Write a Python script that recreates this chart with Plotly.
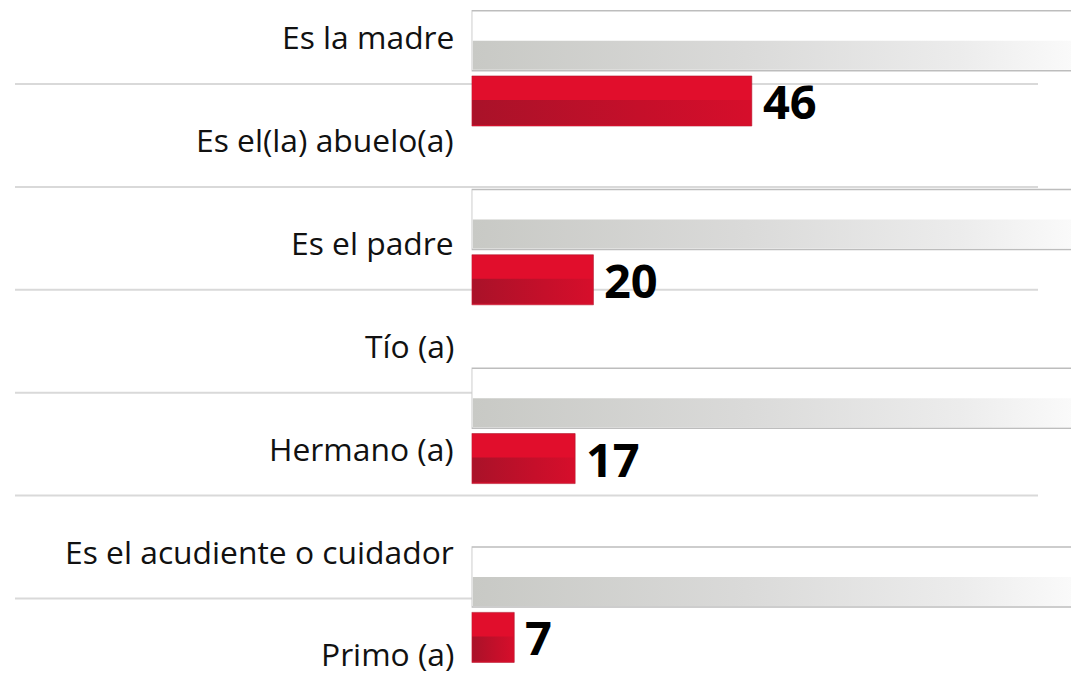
import plotly.graph_objects as go

# ---------------- data ----------------
labels = ["Es la madre", "Es el(la) abuelo(a)", "Es el padre", "Tío (a)",
          "Hermano (a)", "Es el acudiente o cuidador", "Primo (a)"]
values = [46, 20, 17, 7]
track = [100, 100, 100, 100]

# ---------------- style / layout constants ----------------
W, H = 1071, 699
groups = list(range(len(values)))
GRAY_OFF, GRAY_W = -0.3507, 0.3356
RED_OFF, RED_W = 0.0145, 0.2797
LINE_OFF = 0.4616
GROUP_PX = 178.8
ROW_PX = 102.9

fig = go.Figure()

# gray background tracks (white box with gray border)
fig.add_trace(go.Bar(
    orientation="h", x=track, y=groups, base=0,
    offset=GRAY_OFF, width=GRAY_W,
    marker=dict(color="#ffffff", line=dict(color="#bdbdbd", width=1.5)),
    hoverinfo="skip", showlegend=False,
))

# red value bars
fig.add_trace(go.Bar(
    orientation="h", x=values, y=groups, base=0,
    offset=RED_OFF, width=RED_W,
    marker=dict(color="#e10e2c", line=dict(color="#b0152c", width=0.6)),
    hoverinfo="skip", showlegend=False,
))

# gradient lower halves of tracks and red bars (scatter polygons built from data)
px_y = 1.0 / GROUP_PX
for g, t, v in zip(groups, track, values):
    y_top = g + GRAY_OFF + GRAY_W * 0.5
    y_bot = g + GRAY_OFF + GRAY_W - px_y
    fig.add_trace(go.Scatter(
        x=[0.2, t, t, 0.2, 0.2], y=[y_top, y_top, y_bot, y_bot, y_top],
        mode="lines", fill="toself", line=dict(width=0),
        fillgradient=dict(type="horizontal",
                          colorscale=[[0, "#c8c9c5"], [0.45, "#dadad9"],
                                      [0.8, "#ececec"], [1, "#fbfbfb"]]),
        hoverinfo="skip", showlegend=False,
    ))
    ry_top = g + RED_OFF + RED_W * 0.48
    ry_bot = g + RED_OFF + RED_W - px_y
    fig.add_trace(go.Scatter(
        x=[0.1, v - 0.1, v - 0.1, 0.1, 0.1], y=[ry_top, ry_top, ry_bot, ry_bot, ry_top],
        mode="lines", fill="toself", line=dict(width=0),
        fillgradient=dict(type="horizontal",
                          colorscale=[[0, "#a91229"], [0.6, "#c50f2a"], [1, "#d60e2b"]]),
        hoverinfo="skip", showlegend=False,
    ))

# invisible trace to carry the label axis
fig.add_trace(go.Scatter(
    x=[0] * len(labels), y=list(range(len(labels))), yaxis="y2",
    mode="markers", marker=dict(opacity=0), hoverinfo="skip", showlegend=False,
))

annotations = []
for j, lab in enumerate(labels):
    annotations.append(dict(
        x=456 / W, xref="paper", xanchor="right",
        y=j, yref="y2", yanchor="middle",
        text=lab, showarrow=False,
        font=dict(family="Open Sans", size=31.8, color="#111111"),
    ))
for g, v in zip(groups, values):
    annotations.append(dict(
        x=v, xref="x", xanchor="left", xshift=9,
        y=g + RED_OFF + RED_W / 2, yref="y", yanchor="middle",
        text=f"<b>{v}</b>", showarrow=False,
        font=dict(family="Open Sans", size=47, color="#000000"),
    ))

shapes = []
for k in range(len(labels) - 1):
    shapes.append(dict(
        type="line", xref="paper", yref="y2",
        x0=15 / W, x1=1038 / W, y0=k + LINE_OFF, y1=k + LINE_OFF,
        line=dict(color="#d9d9d9", width=2), layer="below",
    ))

y_top_px, row_top_px = 73.4, 36.5
fig.update_layout(
    width=W, height=H,
    margin=dict(l=0, r=0, t=0, b=0),
    paper_bgcolor="#ffffff", plot_bgcolor="rgba(0,0,0,0)",
    barmode="overlay", showlegend=False,
    xaxis=dict(domain=[471.6 / W, 1], range=[0, 98.4],
               visible=False, fixedrange=True),
    yaxis=dict(range=[(H - y_top_px) / GROUP_PX, -y_top_px / GROUP_PX],
               visible=False, fixedrange=True),
    yaxis2=dict(overlaying="y", range=[(H - row_top_px) / ROW_PX, -row_top_px / ROW_PX],
                visible=False, fixedrange=True),
    annotations=annotations, shapes=shapes,
)

fig.write_html(
    "out.html",
    config={"displayModeBar": False},
    post_script="document.body.style.margin='0';document.body.style.overflow='hidden';",
)
